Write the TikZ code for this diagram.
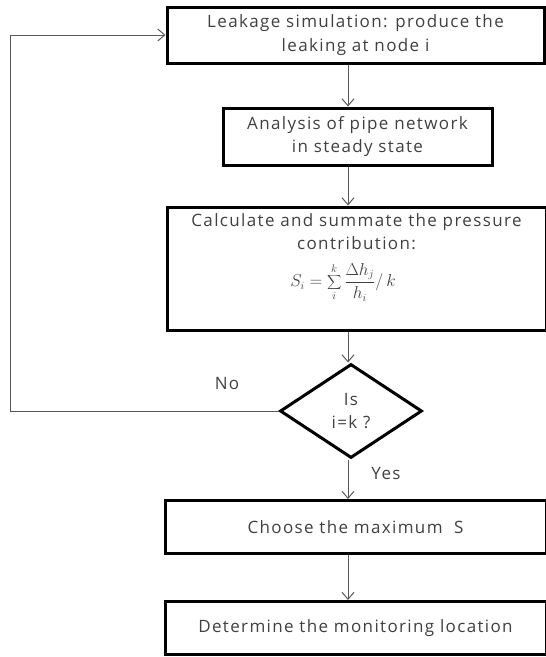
\documentclass[tikz,border=0pt]{standalone}
\usepackage{fontspec}
\setmainfont{Open Sans}[LetterSpace=8]
\usetikzlibrary{arrows.meta,shapes.geometric}
\begin{document}
\begin{tikzpicture}[x=1pt,y=-1pt,
  box/.style={draw=black,line width=3pt,rectangle,inner sep=0pt},
  txt/.style={align=center,text=black!75,font=\fontsize{17}{23.5}\selectfont,inner sep=0pt},
  conn/.style={draw=black!65,line width=1pt,-{Straight Barb[length=7pt,width=12pt]}}]
\useasboundingbox (0,0) rectangle (546,657);
\node[box,minimum width=377pt,minimum height=56pt] (b1) at (355.5,35) {};
\node[box,minimum width=269pt,minimum height=57pt] (b2) at (357.5,136.5) {};
\node[box,minimum width=379pt,minimum height=123pt] (b3) at (356.5,268.5) {};
\node[draw=black,line width=3pt,diamond,aspect=1.5,minimum width=142pt,minimum height=94pt,inner sep=0pt] (d) at (351,411) {};
\node[box,minimum width=381pt,minimum height=53pt] (b4) at (355.5,527) {};
\node[box,minimum width=381pt,minimum height=53pt] (b5) at (355.5,628) {};
\node[txt] (t1) at (b1) {Leakage simulation: produce the\\leaking at node i};
\node[txt,anchor=north] (t3) at (356.5,213) {Calculate and summate the pressure\\contribution:};
\node[txt] (t2) at (b2) {Analysis of pipe network\\in steady state};
\node[inner sep=0pt,text=black!75,font=\fontsize{16}{18}\selectfont,anchor=north] (f3) at (343,263) {$\displaystyle S_i=\sum_i^k\frac{\Delta h_j}{h_i}/\,k$};
\node[txt] (td) at (d) {Is\\i=k ?};
\node[txt] (t4) at (b4) {Choose the maximum\ \ S};
\node[txt] (t5) at (b5) {Determine the monitoring location};
\node[txt] (no) at (227,384) {No};
\node[txt] (yes) at (386,474) {Yes};
\coordinate (col) at (348,0);
\coordinate (lc) at (10,411);
\draw[conn] (b1.south -| col) -- (b2.north -| col);
\draw[conn] (b2.south -| col) -- (b3.north -| col);
\draw[conn] (b3.south -| col) -- (d.north -| col);
\draw[conn] (d.south -| col) -- (b4.north -| col);
\draw[conn] (b4.south -| col) -- (b5.north -| col);
\draw[conn] (d.west) -- (lc) |- (b1.west);
\end{tikzpicture}
\end{document}
